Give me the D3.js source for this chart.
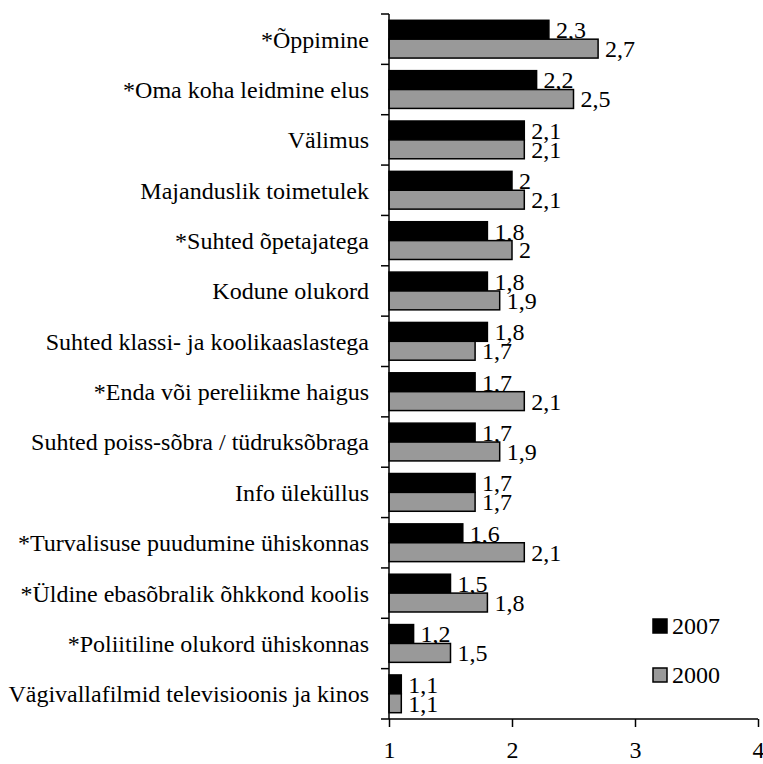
<!DOCTYPE html>
<html>
<head>
<meta charset="utf-8">
<script src="https://cdn.jsdelivr.net/npm/d3@7"></script>
<style>
  body { margin: 0; background: #fff; }
  text { font-family: "Liberation Serif", "Times New Roman", serif; fill: #000; }
</style>
</head>
<body>
<svg></svg>
<script>
// categories top to bottom
var categories = [
  '*Õppimine',
  '*Oma koha leidmine elus',
  'Välimus',
  'Majanduslik toimetulek',
  '*Suhted õpetajatega',
  'Kodune olukord',
  'Suhted klassi- ja koolikaaslastega',
  '*Enda või pereliikme haigus',
  'Suhted poiss-sõbra / tüdruksõbraga',
  'Info üleküllus',
  '*Turvalisuse puudumine ühiskonnas',
  '*Üldine ebasõbralik õhkkond koolis',
  '*Poliitiline olukord ühiskonnas',
  'Vägivallafilmid televisioonis ja kinos'
]
var values2007 = [2.3, 2.2, 2.1, 2, 1.8, 1.8, 1.8, 1.7, 1.7, 1.7, 1.6, 1.5, 1.2, 1.1]
var values2000 = [2.7, 2.5, 2.1, 2.1, 2, 1.9, 1.7, 2.1, 1.9, 1.7, 2.1, 1.8, 1.5, 1.1]
var seriesNames = ['2007', '2000']
var xTicks = [1, 2, 3, 4]

var width = 763
var height = 764
var padLeft = 389, padRight = 758, padTop = 14, padBottom = 719
var fontSize = '24px'
var colors = { '2007': '#000000', '2000': '#999999' }

var series = [
  { name: '2007', values: values2007 },
  { name: '2000', values: values2000 }
]

var svg = d3.select('svg')
  .attr('width', width)
  .attr('height', height)

var xScale = d3.scaleLinear()
  .domain([1, 4])
  .range([padLeft, padRight])

var yScale = d3.scaleBand()
  .domain(categories)
  .range([padTop, padBottom])

var inner = d3.scaleBand()
  .domain(seriesNames)
  .range([0, yScale.bandwidth()])
  .paddingOuter(0.5 * 20 / 30)
  .paddingInner(0)

var fmt = v => String(v).replace('.', ',')

var groups = svg.selectAll('.series')
  .data(series)
  .enter()
  .append('g')
    .attr('class', 'series')

groups.selectAll('rect')
  .data(s => s.values.map((v, i) => ({ name: s.name, value: v, cat: categories[i] })))
  .enter()
  .append('rect')
    .attr('x', xScale(1))
    .attr('y', d => yScale(d.cat) + inner(d.name))
    .attr('width', d => xScale(d.value) - xScale(1))
    .attr('height', inner.bandwidth())
    .attr('fill', d => colors[d.name])
    .attr('stroke', '#000')
    .attr('stroke-width', 1.5)

groups.selectAll('text.val')
  .data(s => s.values.map((v, i) => ({ name: s.name, value: v, cat: categories[i] })))
  .enter()
  .append('text')
    .attr('class', 'val')
    .attr('x', d => xScale(d.value) + 7)
    .attr('y', d => yScale(d.cat) + inner(d.name) + inner.bandwidth() / 2)
    .attr('dy', '0.35em')
    .style('font-size', fontSize)
    .text(d => fmt(d.value))

// y axis
var yAxis = svg.append('g')
  .attr('transform', 'translate(' + padLeft + ',0)')

yAxis.append('line')
  .attr('x1', 0).attr('x2', 0)
  .attr('y1', padTop).attr('y2', padBottom)
  .attr('stroke', '#000').attr('stroke-width', 1.5)

yAxis.selectAll('line.tick')
  .data(categories.concat(['end']))
  .enter()
  .append('line')
    .attr('class', 'tick')
    .attr('x1', -8).attr('x2', 0)
    .attr('y1', (d, i) => padTop + i * yScale.step())
    .attr('y2', (d, i) => padTop + i * yScale.step())
    .attr('stroke', '#000').attr('stroke-width', 1.5)

svg.selectAll('text.cat')
  .data(categories)
  .enter()
  .append('text')
    .attr('class', 'cat')
    .attr('x', padLeft - 20)
    .attr('y', d => yScale(d) + yScale.bandwidth() / 2)
    .attr('dy', '0.35em')
    .attr('text-anchor', 'end')
    .style('font-size', fontSize)
    .text(d => d)

// x axis
var xAxis = svg.append('g')
  .attr('transform', 'translate(0,' + padBottom + ')')
  .call(d3.axisBottom(xScale).tickValues(xTicks).tickSize(8).tickPadding(14).tickFormat(d => d))

xAxis.attr('font-size', null).attr('font-family', null)
xAxis.select('.domain').attr('stroke-width', 1.5).attr('d', 'M' + padLeft + ',0H' + padRight)
xAxis.selectAll('.tick line').attr('stroke-width', 1.5)
xAxis.selectAll('.tick text')
  .style('font-size', fontSize)

// legend
var legend = svg.selectAll('.legend')
  .data(series)
  .enter()
  .append('g')
    .attr('class', 'legend')
    .attr('transform', (d, i) => 'translate(653,' + (619 + i * 49) + ')')

legend.append('rect')
  .attr('width', 14).attr('height', 14)
  .attr('fill', d => colors[d.name])
  .attr('stroke', '#000').attr('stroke-width', 1.5)

legend.append('text')
  .attr('x', 19)
  .attr('y', 7)
  .attr('dy', '0.35em')
  .style('font-size', fontSize)
  .text(d => d.name)
</script>
</body>
</html>
